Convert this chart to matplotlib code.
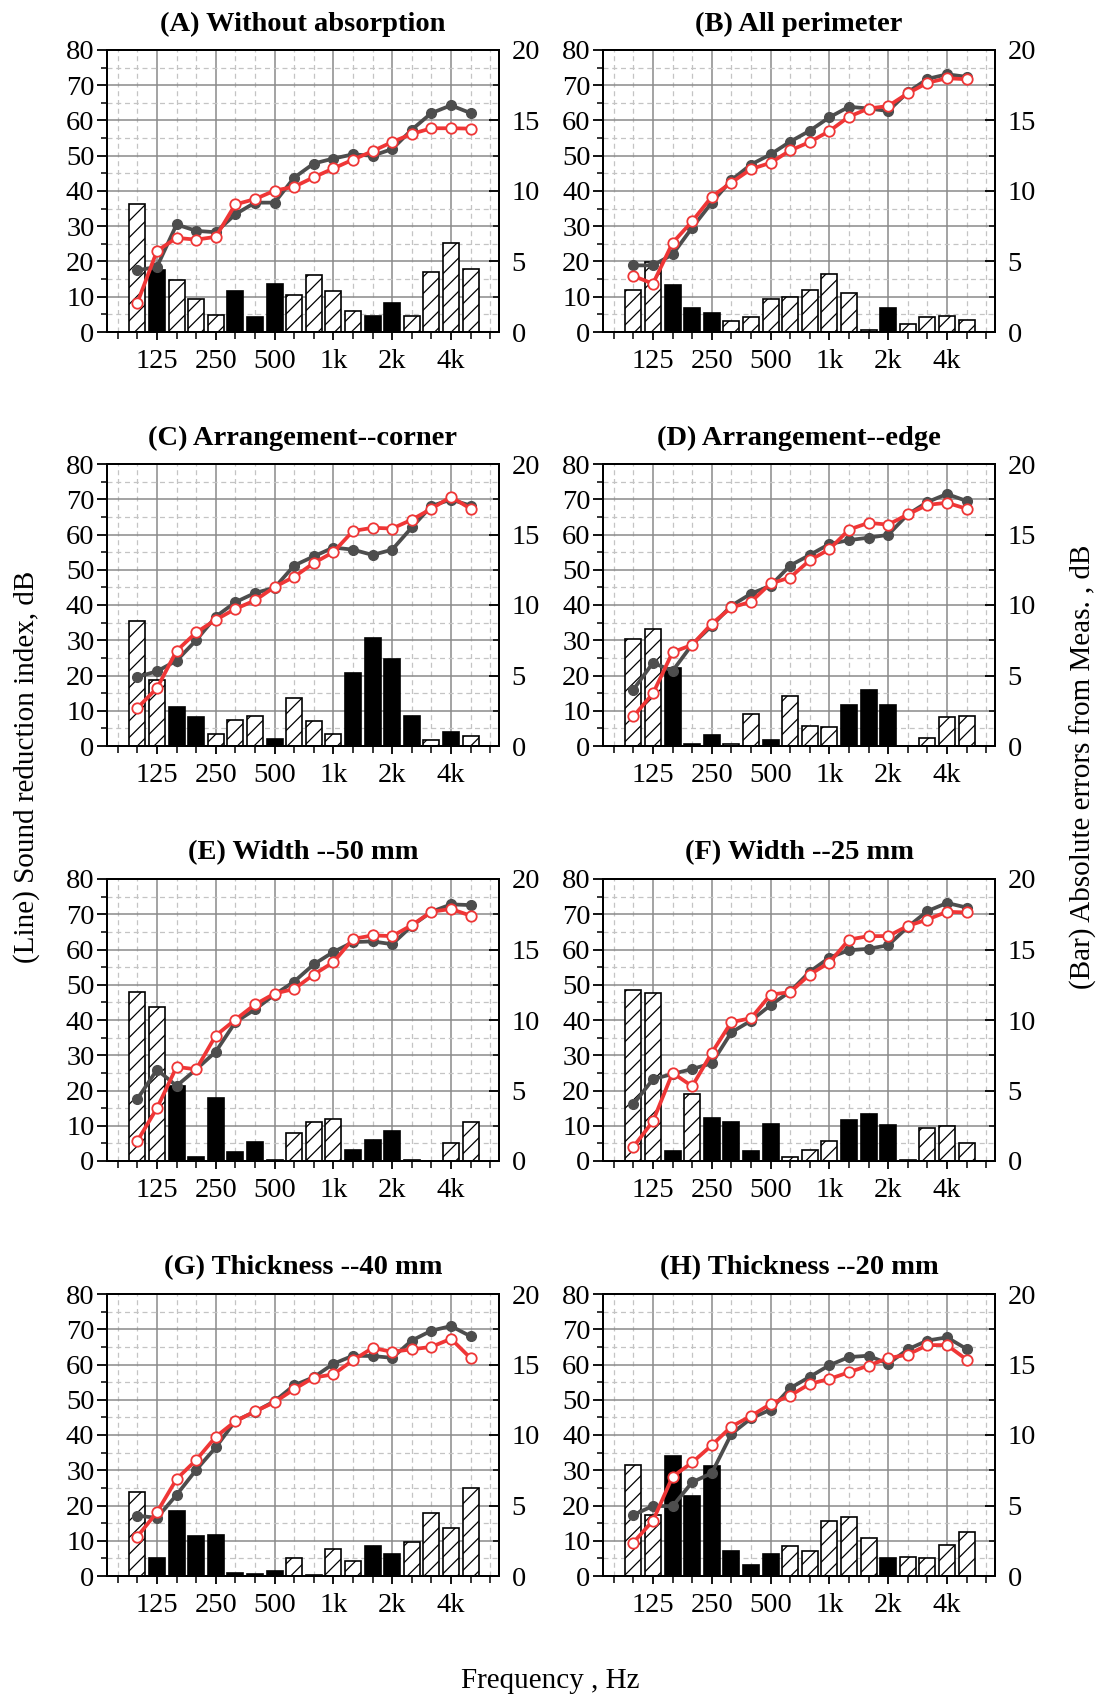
import matplotlib
matplotlib.use('Agg')
import matplotlib.pyplot as plt
from matplotlib.ticker import MultipleLocator, FixedLocator, NullFormatter
import numpy as np

plt.rcParams['font.family'] = ['Liberation Serif', 'DejaVu Serif']
plt.rcParams['hatch.linewidth'] = 0.9

# 1/3-octave bands 100 Hz .. 5 kHz
bands = ['100', '125', '160', '200', '250', '315', '400', '500', '630', '800',
         '1k', '1.25k', '1.6k', '2k', '2.5k', '3.15k', '4k', '5k']
tick_labels = ['125', '250', '500', '1k', '2k', '4k']

titles = ['(A) Without absorption', '(B) All perimeter',
          '(C) Arrangement--corner', '(D) Arrangement--edge',
          '(E) Width --50 mm', '(F) Width --25 mm',
          '(G) Thickness --40 mm', '(H) Thickness --20 mm']

# Measured sound reduction index (dark line), dB
meas_A = [17.5, 18.5, 30.5, 28.7, 28.3, 33.4, 36.7, 36.7, 43.8, 47.8, 49.2, 50.4, 50.0, 51.9, 57.4, 62.1, 64.3, 62.1]
meas_B = [18.9, 18.9, 22.0, 29.6, 36.7, 43.1, 47.5, 50.4, 54.0, 57.1, 60.9, 63.9, 63.4, 62.7, 68.0, 71.8, 73.1, 72.4]
meas_C = [19.6, 21.2, 24.2, 30.0, 36.7, 40.8, 43.4, 44.9, 51.2, 53.8, 56.3, 55.7, 54.2, 55.7, 62.0, 68.1, 69.9, 68.2]
meas_D = [16.0, 23.6, 21.3, 28.8, 34.1, 39.8, 43.2, 45.5, 51.2, 54.2, 57.3, 58.4, 59.1, 59.9, 65.7, 69.2, 71.5, 69.5]
meas_E = [17.6, 25.9, 21.3, 26.0, 31.0, 39.4, 43.0, 47.2, 50.9, 55.8, 59.3, 62.1, 62.3, 61.5, 66.7, 70.7, 72.8, 72.6]
meas_F = [16.1, 23.2, 24.7, 26.1, 27.7, 36.5, 39.8, 44.2, 48.1, 53.7, 57.7, 59.8, 60.2, 61.2, 66.4, 70.9, 73.2, 71.9]
meas_G = [17.1, 16.5, 23.0, 30.1, 36.5, 44.0, 46.6, 49.6, 54.1, 56.4, 60.2, 62.5, 62.4, 61.9, 66.8, 69.6, 70.9, 68.0]
meas_H = [17.3, 19.9, 19.8, 26.6, 29.2, 40.3, 44.7, 47.2, 53.3, 56.5, 59.8, 62.1, 62.5, 60.2, 64.3, 66.8, 67.7, 64.4]

# Predicted sound reduction index (red line), dB
pred_A = [8.3, 23.0, 26.7, 26.2, 27.0, 36.2, 37.7, 40.1, 41.2, 43.9, 46.4, 48.9, 51.3, 53.9, 56.2, 57.8, 57.8, 57.7]
pred_B = [15.9, 13.7, 25.3, 31.4, 38.4, 42.4, 46.2, 48.0, 51.5, 53.9, 57.0, 61.1, 63.4, 64.1, 67.7, 70.7, 72.0, 71.7]
pred_C = [10.8, 16.4, 27.0, 32.2, 35.8, 38.9, 41.3, 45.1, 48.0, 51.9, 55.0, 61.0, 61.9, 61.7, 64.2, 67.3, 70.7, 67.3]
pred_D = [8.4, 14.9, 26.6, 28.7, 34.7, 39.3, 40.9, 46.1, 47.8, 52.7, 55.8, 61.4, 63.3, 62.8, 65.7, 68.4, 69.0, 67.3]
pred_E = [5.7, 15.0, 26.7, 26.0, 35.6, 40.1, 44.4, 47.5, 48.8, 52.9, 56.4, 63.0, 64.0, 63.8, 66.9, 70.7, 71.5, 69.6]
pred_F = [4.0, 11.3, 25.0, 21.2, 30.7, 39.4, 40.5, 47.2, 47.9, 52.9, 56.3, 62.8, 63.8, 63.8, 66.7, 68.5, 70.7, 70.5]
pred_G = [11.2, 18.1, 27.5, 32.9, 39.5, 43.9, 46.7, 49.3, 53.0, 56.3, 57.2, 61.2, 64.7, 63.6, 64.3, 65.0, 67.3, 61.8]
pred_H = [9.5, 15.7, 28.2, 32.2, 37.1, 42.4, 45.4, 48.8, 51.2, 54.5, 55.9, 57.8, 59.7, 61.8, 62.8, 65.5, 65.5, 61.4]

# Absolute errors from measurement (bars), dB
err_A = [9.07, 4.43, 3.67, 2.37, 1.23, 2.89, 1.07, 3.39, 2.65, 4.07, 2.89, 1.49, 1.16, 2.08, 1.16, 4.28, 6.34, 4.47]
err_B = [2.98, 4.97, 3.31, 1.73, 1.35, 0.80, 1.09, 2.37, 2.49, 3.00, 4.14, 2.75, 0.17, 1.68, 0.59, 1.09, 1.16, 0.88]
err_C = [8.90, 4.67, 2.75, 2.06, 0.85, 1.87, 2.16, 0.50, 3.39, 1.78, 0.88, 5.17, 7.63, 6.16, 2.16, 0.43, 0.97, 0.73]
err_D = [7.60, 8.32, 5.52, 0.12, 0.80, 0.14, 2.27, 0.45, 3.55, 1.45, 1.37, 2.89, 4.00, 2.89, 0.00, 0.57, 2.04, 2.11]
err_E = [11.98, 10.93, 5.31, 0.26, 4.46, 0.64, 1.33, 0.09, 1.97, 2.80, 2.99, 0.76, 1.47, 2.11, 0.07, 0.02, 1.26, 2.75]
err_F = [12.14, 11.90, 0.71, 4.72, 3.06, 2.77, 0.71, 2.63, 0.26, 0.78, 1.45, 2.94, 3.32, 2.56, 0.05, 2.37, 2.51, 1.26]
err_G = [5.98, 1.30, 4.63, 2.82, 2.89, 0.21, 0.12, 0.33, 1.30, 0.05, 1.95, 1.04, 2.13, 1.57, 2.42, 4.46, 3.39, 6.24]
err_H = [7.88, 4.32, 8.52, 5.65, 7.80, 1.78, 0.81, 1.54, 2.13, 1.80, 3.87, 4.15, 2.68, 1.30, 1.35, 1.26, 2.18, 3.11]

# Bar style per band: 'b' = solid black bar, 'h' = hatched bar
kind_A = 'hbhhhbbbhhhhbbhhhh'
kind_B = 'hhbbbhhhhhhhhbhhhh'
kind_C = 'hhbbhhhbhhhbbbbhbh'
kind_D = 'hhbbbhhbhhhbbbhhhh'
kind_E = 'hhbbbbbbhhhbbbhhhh'
kind_F = 'hhbhbbbbhhhbbbbhhh'
kind_G = 'hbbbbbbbhbhhbbhhhh'
kind_H = 'hhbbbbbbhhhhhbhhhh'

meas = [meas_A, meas_B, meas_C, meas_D, meas_E, meas_F, meas_G, meas_H]
pred = [pred_A, pred_B, pred_C, pred_D, pred_E, pred_F, pred_G, pred_H]
errs = [err_A, err_B, err_C, err_D, err_E, err_F, err_G, err_H]
kinds = [kind_A, kind_B, kind_C, kind_D, kind_E, kind_F, kind_G, kind_H]

W, H = 1099, 1697
fig = plt.figure(figsize=(W / 100, H / 100), dpi=100)

col_left = [107, 603]
col_w = 392
row_top = [50, 464, 879, 1294]
row_h = 282

FS_TICK = 20.5
FS_TITLE = 20.5
FS_LABEL = 21
x = np.arange(len(bands))
major_idx = [bands.index(t) for t in tick_labels]
minor_idx = [i for i in range(-1, len(bands) + 1) if i not in major_idx]

meas_col = '#4d4d4d'
pred_col = '#ef3636'

for k in range(8):
    r, c = divmod(k, 2)
    rect = [col_left[c] / W, 1 - (row_top[r] + row_h) / H, col_w / W, row_h / H]
    ax1 = fig.add_axes(rect)
    ax2 = ax1.twinx()

    # grid on the bottom axes
    ax1.set_axisbelow(True)
    ax1.yaxis.set_major_locator(MultipleLocator(10))
    ax1.yaxis.set_minor_locator(MultipleLocator(5))
    ax1.xaxis.set_major_locator(FixedLocator(major_idx))
    ax1.xaxis.set_minor_locator(FixedLocator(minor_idx))
    ax1.set_xticklabels(tick_labels)
    ax1.xaxis.set_minor_formatter(NullFormatter())
    ax1.grid(which='major', color='#8a8a8a', lw=1.1, ls='-')
    ax1.grid(which='minor', color='#c4c4c4', lw=0.9, ls=(0, (4, 3)))

    # bars (right axis)
    for xi, e, kd in zip(x, errs[k], kinds[k]):
        if kd == 'b':
            ax2.bar(xi, e, width=0.82, color='black', edgecolor='black', lw=1.2, zorder=2)
        else:
            ax2.bar(xi, e, width=0.82, facecolor='white', edgecolor='black',
                    hatch='//', lw=1.2, zorder=2)

    # lines (left axis scale)
    ax2.plot(x, meas[k], transform=ax1.transData, color=meas_col, lw=2.7,
             marker='o', ms=7, mfc=meas_col, mec=meas_col, zorder=4, clip_on=False)
    ax2.plot(x, pred[k], transform=ax1.transData, color=pred_col, lw=2.7,
             marker='o', ms=7.5, mfc='white', mec=pred_col, mew=1.3, zorder=5,
             clip_on=False)

    ax1.set_xlim(-1.55, 18.45)
    ax2.set_xlim(-1.55, 18.45)
    ax1.set_ylim(0, 80)
    ax2.set_ylim(0, 20)
    ax2.yaxis.set_major_locator(MultipleLocator(5))
    ax2.yaxis.set_minor_locator(MultipleLocator(2.5))

    for sp in ax2.spines.values():
        sp.set_linewidth(1.4)
    for sp in ax1.spines.values():
        sp.set_linewidth(1.4)

    ax1.tick_params(axis='y', which='major', direction='out', length=7, width=1.3,
                    labelsize=FS_TICK, pad=2)
    ax1.tick_params(axis='y', which='minor', direction='out', length=4, width=1.1)
    ax1.tick_params(axis='x', which='major', direction='out', length=6, width=1.3,
                    labelsize=FS_TICK, pad=6)
    ax1.tick_params(axis='x', which='minor', direction='out', length=5, width=1.1)
    ax2.tick_params(axis='y', which='major', direction='in', length=7, width=1.3,
                    labelsize=FS_TICK, pad=9)
    ax2.tick_params(axis='y', which='minor', direction='in', length=4, width=1.1)

    ax1.set_title(titles[k], fontsize=FS_TITLE, fontweight='bold', pad=14)

fig.text(27 / W, 1 - 767 / H, '(Line) Sound reduction index, dB', rotation=90,
         ha='center', va='center', fontsize=FS_LABEL)
fig.text(1083 / W, 1 - 767 / H, '(Bar) Absolute errors from Meas. , dB', rotation=90,
         ha='center', va='center', fontsize=FS_LABEL)
fig.text(550 / W, 1 - 1681 / H, 'Frequency , Hz', ha='center', va='center',
         fontsize=FS_LABEL)

fig.savefig('out.png', dpi=100)
